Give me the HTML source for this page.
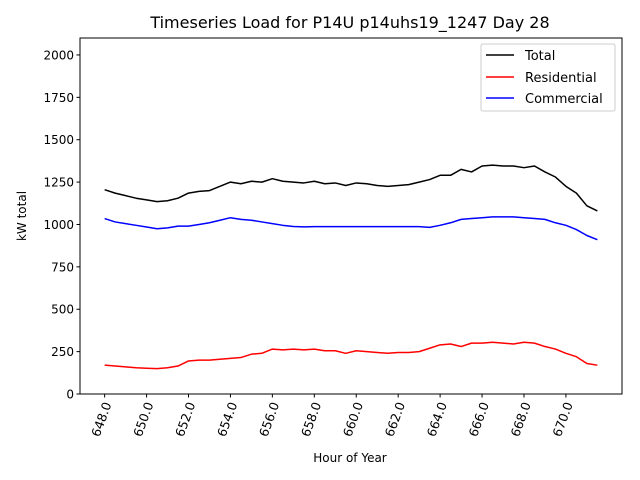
<!DOCTYPE html>
<html><head><meta charset="utf-8"><style>
body{margin:0;background:#fff}
svg{display:block;font-family:"DejaVu Sans","Liberation Sans",sans-serif}
</style></head><body>
<svg id="chart" width="640" height="480" viewBox="0 0 640 480">
<rect x="0" y="0" width="640" height="480" fill="#fff"/>
<text x="350" y="28" font-size="16" text-anchor="middle" fill="#000">Timeseries Load for P14U p14uhs19_1247  Day 28</text>
<g id="plot"></g>
<rect x="80" y="38" width="542" height="356" fill="none" stroke="#000" stroke-width="1"/>
<text x="350" y="462" font-size="12" text-anchor="middle">Hour of Year</text>
<text transform="translate(26,216) rotate(-90)" font-size="12" text-anchor="middle">kW total</text>
<g>
<rect x="481" y="44" width="134" height="67" rx="2" fill="#fff" fill-opacity="0.8" stroke="#ccc"/>
<line x1="486" y1="55" x2="514" y2="55" stroke="#000" stroke-width="1.5"/>
<text x="525" y="60" font-size="13">Total</text>
<line x1="486" y1="77" x2="514" y2="77" stroke="#f00" stroke-width="1.5"/>
<text x="525" y="82" font-size="13">Residential</text>
<line x1="486" y1="98" x2="514" y2="98" stroke="#00f" stroke-width="1.5"/>
<text x="525" y="103" font-size="13">Commercial</text>
</g>
</svg>
<script>
const startHour = 648;
const stepHours = 0.5;
const totalLoad = [1205,1185,1170,1155,1145,1135,1140,1155,1185,1195,1200,1225,1250,1240,1255,1250,1270,1255,1250,1245,1255,1240,1245,1230,1245,1240,1230,1225,1230,1235,1250,1265,1290,1290,1325,1310,1345,1350,1345,1345,1335,1345,1310,1280,1225,1185,1110,1080];
const residentialLoad = [170,165,160,155,152,150,155,165,195,200,200,205,210,215,235,240,265,260,265,260,265,255,255,240,255,250,245,240,245,245,250,270,290,295,280,300,300,305,300,295,305,300,280,265,240,220,180,170];
const commercialLoad = [1035,1015,1005,995,985,975,980,990,990,1000,1010,1025,1040,1030,1025,1015,1005,995,988,986,987,987,987,987,987,987,987,987,987,987,987,983,995,1010,1030,1035,1040,1045,1045,1045,1040,1035,1030,1010,995,970,935,910];
const yTicks = [0,250,500,750,1000,1250,1500,1750,2000];
const xTicks = [648,650,652,654,656,658,660,662,664,666,668,670];

const NS = "http://www.w3.org/2000/svg";
const L = 80, R = 622, T = 38, B = 394;
const n = totalLoad.length;
const xMinD = startHour, xMaxD = startHour + (n - 1) * stepHours;
const pad = (xMaxD - xMinD) * 0.05;
const x0 = xMinD - pad, x1 = xMaxD + pad;
const yMax = 2100;
function xs(h){ return L + (h - x0) / (x1 - x0) * (R - L); }
function ys(v){ return B - v / yMax * (B - T); }
const plot = document.getElementById('plot');

yTicks.forEach(v => {
  const y = ys(v);
  const t = document.createElementNS(NS, 'line');
  t.setAttribute('x1', L - 3.5); t.setAttribute('x2', L); t.setAttribute('y1', y); t.setAttribute('y2', y);
  t.setAttribute('stroke', '#000');
  
  
  plot.appendChild(t);
  const lb = document.createElementNS(NS, 'text');
  lb.setAttribute('x', L - 6); lb.setAttribute('y', y + 4.5);
  lb.setAttribute('font-size', '12'); lb.setAttribute('text-anchor', 'end');
  lb.textContent = v;
  
  
  plot.appendChild(lb);
});

xTicks.forEach(h => {
  const x = xs(h);
  const t = document.createElementNS(NS, 'line');
  t.setAttribute('x1', x); t.setAttribute('x2', x); t.setAttribute('y1', B); t.setAttribute('y2', B + 3.5);
  t.setAttribute('stroke', '#000');
  
  
  plot.appendChild(t);
  const lb = document.createElementNS(NS, 'text');
  lb.setAttribute('transform', 'translate(' + (x + 7) + ',' + (B + 10) + ') rotate(-70)');
  lb.setAttribute('font-size', '12.5'); lb.setAttribute('text-anchor', 'end');
  lb.textContent = h.toFixed(1);
  
  
  plot.appendChild(lb);
});

function drawSeries(arr, color, name){
  const pts = arr.map((v, i) => xs(startHour + i * stepHours).toFixed(2) + ',' + ys(v).toFixed(2)).join(' ');
  const pl = document.createElementNS(NS, 'polyline');
  pl.setAttribute('points', pts);
  pl.setAttribute('fill', 'none');
  pl.setAttribute('stroke', color);
  pl.setAttribute('stroke-width', '1.5');
  pl.setAttribute('stroke-linejoin', 'round');
  
  
  plot.appendChild(pl);
}
drawSeries(totalLoad, '#000', 'total-line');
drawSeries(residentialLoad, '#f00', 'residential-line');
drawSeries(commercialLoad, '#00f', 'commercial-line');
</script>
</body></html>
